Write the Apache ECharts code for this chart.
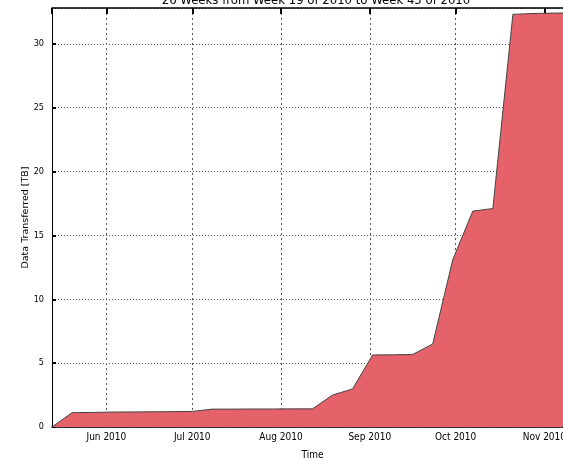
<!DOCTYPE html>
<html>
<head>
<meta charset="utf-8">
<script src="https://cdn.jsdelivr.net/npm/echarts@6/dist/echarts.min.js"></script>
<style>
  html, body { margin: 0; padding: 0; background: #fff; }
  #chart { width: 563px; height: 461px; }
</style>
</head>
<body>
<div id="chart"></div>
<script>
// Weekly cumulative transfer volume, week 19 to week 45 of 2010
const weekDates = [
  '2010-05-13', '2010-05-20', '2010-05-27', '2010-06-03', '2010-06-10',
  '2010-06-17', '2010-06-24', '2010-07-01', '2010-07-08', '2010-07-15',
  '2010-07-22', '2010-07-29', '2010-08-05', '2010-08-12', '2010-08-19',
  '2010-08-26', '2010-09-02', '2010-09-09', '2010-09-16', '2010-09-23',
  '2010-09-30', '2010-10-07', '2010-10-14', '2010-10-21', '2010-10-28',
  '2010-11-04', '2010-11-11'
];
const transferredTB = [
  0, 1.12, 1.14, 1.17, 1.18,
  1.19, 1.2, 1.22, 1.4, 1.4,
  1.41, 1.41, 1.42, 1.42, 2.5,
  2.98, 5.64, 5.65, 5.68, 6.5,
  13.1, 16.9, 17.1, 32.3, 32.37,
  32.4, 32.42
];
const yTicks = [0, 5, 10, 15, 20, 25, 30];

const chartTitle = '26 Weeks from Week 19 of 2010 to Week 45 of 2010';
const xName = 'Time';
const yName = 'Data Transferred [TB]';

const narrow = '"Liberation Sans Narrow", "DejaVu Sans Condensed", "DejaVu Sans", sans-serif';
const sans = '"DejaVu Sans", sans-serif';

const chart = echarts.init(document.getElementById('chart'), null, { renderer: 'canvas' });

const toTime = d => new Date(d + 'T00:00:00').getTime();
const tMin = toTime(weekDates[0]);
const tMax = toTime(weekDates[weekDates.length - 1]);
const DAY = 864e5;

const monthNames = ['Jan','Feb','Mar','Apr','May','Jun','Jul','Aug','Sep','Oct','Nov','Dec'];
function monthLabel(v) {
  const d = new Date(v);
  return monthNames[d.getMonth()] + ' ' + d.getFullYear();
}

const gridColor = '#555';

chart.setOption({
  animation: false,
  title: {
    text: chartTitle,
    left: 311,
    textAlign: 'center',
    top: -11,
    textStyle: { fontFamily: narrow, fontSize: 13, fontWeight: 'normal', color: '#000' }
  },
  grid: { left: 52, top: 8, right: -10, bottom: 34, outerBoundsMode: 'none', containLabel: false },
  xAxis: [{
    type: 'time',
    min: tMin,
    max: tMax,
    minInterval: 28 * DAY,
    maxInterval: 31 * DAY,
    name: xName,
    nameLocation: 'middle',
    nameGap: 23,
    nameMoveOverlap: false,
    nameTextStyle: { fontFamily: narrow, fontSize: 10, color: '#000' },
    axisLine: { show: true, lineStyle: { color: '#000', width: 1.5 } },
    axisTick: { show: true, inside: true, length: 6, lineStyle: { color: '#000', width: 2 } },
    minorTick: { show: false },
    axisLabel: {
      formatter: monthLabel,
      fontFamily: narrow, fontSize: 10, color: '#000', margin: 5,
      showMinLabel: false, showMaxLabel: false
    },
    splitLine: { show: true, lineStyle: { type: [2, 3], color: gridColor, width: 1 } }
  }, {
    type: 'time',
    position: 'top',
    min: tMin,
    max: tMax,
    minInterval: 28 * DAY,
    maxInterval: 31 * DAY,
    axisLine: { show: true, lineStyle: { color: '#000', width: 1.5 } },
    axisTick: { show: true, inside: true, length: 6, lineStyle: { color: '#000', width: 2 } },
    axisLabel: { show: false },
    splitLine: { show: false }
  }],
  yAxis: {
    type: 'value',
    min: yTicks[0],
    max: 32.8,
    interval: yTicks[1] - yTicks[0],
    name: yName,
    nameLocation: 'middle',
    nameGap: 21,
    nameMoveOverlap: false,
    nameTextStyle: { fontFamily: sans, fontSize: 9.5, color: '#000' },
    axisLine: { show: true, lineStyle: { color: '#000', width: 1 } },
    axisTick: { show: true, inside: true, length: 4, lineStyle: { color: '#000', width: 2 } },
    axisLabel: {
      fontFamily: narrow, fontSize: 9, color: '#000', margin: 8,
      showMaxLabel: false
    },
    splitLine: { show: true, lineStyle: { type: [1, 2], color: gridColor, width: 1 } }
  },
  series: [{
    type: 'line',
    data: weekDates.map((d, i) => [toTime(d), transferredTB[i]]),
    showSymbol: false,
    symbol: 'none',
    smooth: false,
    lineStyle: { color: '#444', width: 1 },
    areaStyle: { color: '#e6626a', opacity: 1 },
    z: 1
  }]
});
</script>
</body>
</html>
